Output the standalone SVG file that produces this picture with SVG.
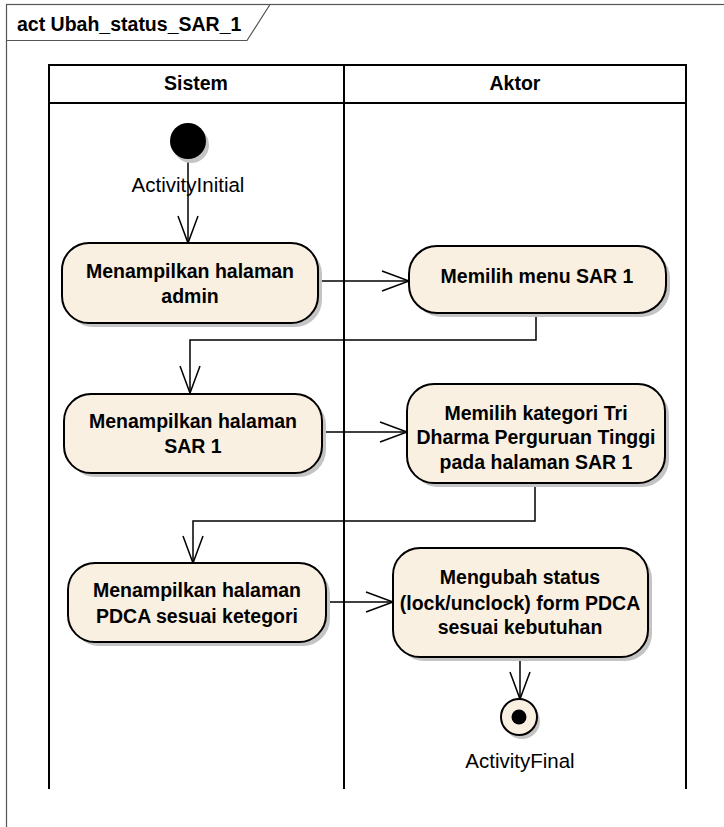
<svg xmlns="http://www.w3.org/2000/svg" width="724" height="827" viewBox="0 0 724 827">
<defs>
<style>
.frame{fill:none;stroke:#555;stroke-width:1.2}
.lane{fill:none;stroke:#000;stroke-width:2}
.box{fill:#FAF0E2;stroke:#000;stroke-width:2}
.shadow{fill:#C4C4C4;stroke:none}
.b{font-family:"Liberation Sans",Arial,sans-serif;font-weight:bold;font-size:19.5px;fill:#000;text-anchor:middle}
.r{font-family:"Liberation Sans",Arial,sans-serif;font-size:20.5px;fill:#000;text-anchor:middle}
.edge{fill:none;stroke:#000;stroke-width:1.5}
</style>
<marker id="arr" markerUnits="userSpaceOnUse" viewBox="0 0 28 20" markerWidth="28" markerHeight="20" refX="27" refY="10" orient="auto" overflow="visible">
<path d="M0,0 L27,10 L0,20" fill="none" stroke="#000" stroke-width="1.5"/>
</marker>
</defs>
<rect width="724" height="827" fill="#fff"/>
<g id="frame">
<rect class="frame" x="6.5" y="4.5" width="740" height="850"/>
<path class="frame" d="M6.5,40.5 H247 L270,4.5"/>
<text class="b" x="17" y="31" style="text-anchor:start">act Ubah_status_SAR_1</text>
</g>
<g id="lanes">
<path class="lane" d="M49,789 V65 H686 V789"/>
<path class="lane" d="M49,103 H686"/>
<path class="lane" d="M344,65 V789"/>
<text class="b" x="196" y="90">Sistem</text>
<text class="b" x="515" y="90">Aktor</text>
</g>
<g id="connectors">
<path class="edge" d="M188,160 V243" marker-end="url(#arr)"/>
<path class="edge" d="M318,281 H409" marker-end="url(#arr)"/>
<path class="edge" d="M536,313 V340 H190 V393" marker-end="url(#arr)"/>
<path class="edge" d="M322,432 H407" marker-end="url(#arr)"/>
<path class="edge" d="M535,483 V521 H193 V563" marker-end="url(#arr)"/>
<path class="edge" d="M326,602 H393" marker-end="url(#arr)"/>
<path class="edge" d="M520,657 V699" marker-end="url(#arr)"/>
</g>
<g id="initial">
<circle class="shadow" cx="191" cy="145" r="18"/>
<circle cx="188" cy="141" r="18" fill="#000"/>
<text class="r" x="188" y="192">ActivityInitial</text>
</g>
<g id="n1">
<rect class="shadow" x="66" y="247" width="256" height="80" rx="27"/>
<rect class="box" x="62" y="243" width="256" height="80" rx="27"/>
<text class="b" x="190" y="278">Menampilkan halaman</text>
<text class="b" x="190" y="303">admin</text>
</g>
<g id="n2">
<rect class="shadow" x="413" y="250" width="257" height="67" rx="28"/>
<rect class="box" x="409" y="246" width="257" height="67" rx="28"/>
<text class="b" x="537" y="283">Memilih menu SAR 1</text>
</g>
<g id="n3">
<rect class="shadow" x="68" y="398" width="258" height="79" rx="27"/>
<rect class="box" x="64" y="394" width="258" height="79" rx="27"/>
<text class="b" x="193" y="428">Menampilkan halaman</text>
<text class="b" x="193" y="453">SAR 1</text>
</g>
<g id="n4">
<rect class="shadow" x="411" y="388" width="258" height="99" rx="27"/>
<rect class="box" x="407" y="384" width="258" height="99" rx="27"/>
<text class="b" x="536" y="420">Memilih kategori Tri</text>
<text class="b" x="536" y="444">Dharma Perguruan Tinggi</text>
<text class="b" x="536" y="469">pada halaman SAR 1</text>
</g>
<g id="n5">
<rect class="shadow" x="72" y="567" width="258" height="79" rx="27"/>
<rect class="box" x="68" y="563" width="258" height="79" rx="27"/>
<text class="b" x="197" y="597">Menampilkan halaman</text>
<text class="b" x="197" y="623">PDCA sesuai ketegori</text>
</g>
<g id="n6">
<rect class="shadow" x="397" y="552" width="255" height="109" rx="27"/>
<rect class="box" x="393" y="548" width="255" height="109" rx="27"/>
<text class="b" x="520" y="584">Mengubah status</text>
<text class="b" x="520" y="610">(lock/unclock) form PDCA</text>
<text class="b" x="520" y="634">sesuai kebutuhan</text>
</g>
<g id="final">
<circle class="shadow" cx="522" cy="721" r="18"/>
<circle cx="519" cy="717" r="18" fill="#FAF0E2" stroke="#000" stroke-width="2"/>
<circle cx="519" cy="717" r="7.5" fill="#000"/>
<text class="r" x="520" y="768">ActivityFinal</text>
</g>
</svg>
